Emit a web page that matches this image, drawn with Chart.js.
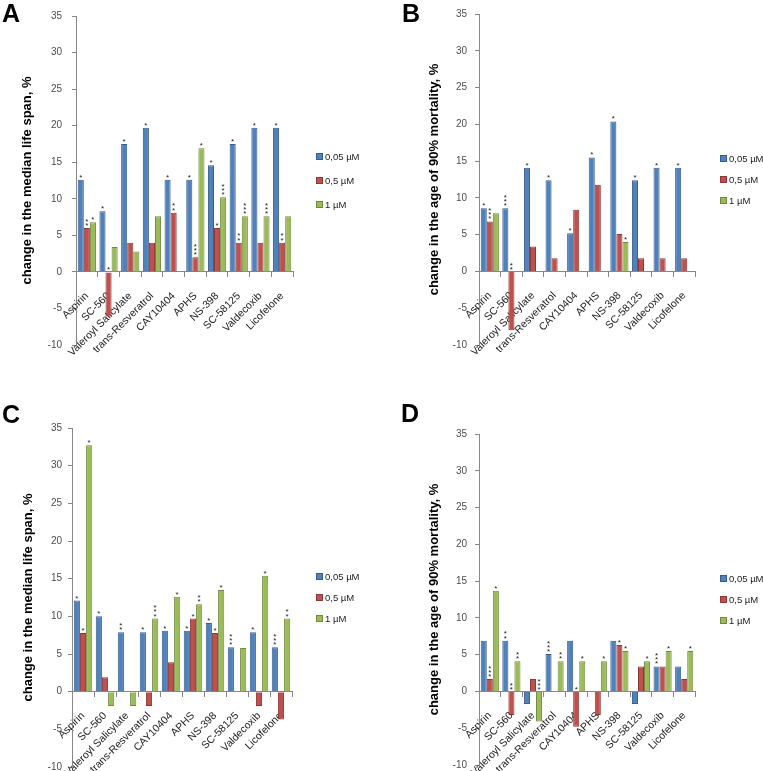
<!DOCTYPE html>
<html><head><meta charset="utf-8">
<script src="https://cdn.jsdelivr.net/npm/chart.js@4/dist/chart.umd.min.js"></script>
<style>
html,body{margin:0;padding:0;background:#fff;overflow:hidden;width:763px;height:771px;}
canvas{position:absolute;}
</style></head><body>
<canvas id="cA" width="380" height="380" style="left:0;top:0"></canvas>
<canvas id="cB" width="383" height="380" style="left:380px;top:0"></canvas>
<canvas id="cC" width="380" height="400" style="left:0;top:380px"></canvas>
<canvas id="cD" width="383" height="400" style="left:380px;top:380px"></canvas>
<script>
// ---- data ----
const categories = ['Aspirin','SC-560','Valeroyl Salicylate','trans-Resveratrol','CAY10404','APHS','NS-398','SC-58125','Valdecoxib','Licofelone'];
const seriesLabels = ['0,05 µM','0,5 µM','1 µM'];
const yMin = -10, yMax = 35, yStep = 5;
const titleLifeSpan = 'change in the median life span, %';
const titleMortality = 'change in the age of 90% mortality, %';

// Panel A
const a005 = [12.6, 8.3, 17.5, 19.7, 12.6, 12.6, 14.6, 17.5, 19.7, 19.7];
const a05  = [6.0, -6.1, 4.0, 4.0, 8.1, 2.0, 6.0, 4.0, 4.0, 4.0];
const a1   = [6.8, 3.4, 2.8, 7.6, null, 16.9, 10.2, 7.6, 7.6, 7.6];
const sA005 = ['*','*','*','*','*','*','*','*','*','*'];
const sA05  = ['**','*','','','**','***','*','**','','**'];
const sA1   = ['*','','','','','*','***','***','***',''];

// Panel B
const b005 = [8.6, 8.6, 14.1, 12.4, 5.2, 15.5, 20.4, 12.4, 14.1, 14.1];
const b05  = [6.8, -8.0, 3.4, 1.8, 8.4, 11.8, 5.1, 1.8, 1.8, 1.8];
const b1   = [7.9, null, null, null, null, null, 4.0, null, null, null];
const sB005 = ['*','***','*','*','*','*','*','*','*','*'];
const sB05  = ['***','**','','','','','','','',''];
const sB1   = ['','','','','','','*','','',''];

// Panel C
const c005 = [12.1, 10.0, 7.9, 7.9, 8.1, 8.1, 9.1, 5.9, 7.9, 5.9];
const c05  = [7.8, 1.9, null, -1.9, 3.9, 9.7, 7.8, null, -1.9, -3.7];
const c1   = [32.7, -1.9, -1.9, 9.7, 12.6, 11.6, 13.5, 5.8, 15.4, 9.7];
const sC005 = ['*','*','**','*','*','*','*','***','*','***'];
const sC05  = ['*','','','','','*','*','','',''];
const sC1   = ['*','','','***','*','**','*','','*','**'];

// Panel D
const d005 = [6.9, 6.9, -1.7, 5.1, 6.9, null, 6.9, -1.7, 3.4, 3.4];
const d05  = [1.7, -3.2, 1.7, null, -4.8, -3.2, 6.3, 3.4, 3.4, 1.7];
const d1   = [13.7, 4.1, -4.1, 4.1, 4.1, 4.1, 5.5, 4.1, 5.5, 5.5];
const sD005 = ['','**','','***','','','','','***',''];
const sD05  = ['***','**','','','*','','*','','',''];
const sD1   = ['*','**','***','**','*','*','*','*','*','*'];

// ---- styles ----
const FONT = '"Liberation Sans", Arial, Helvetica, sans-serif';
const fills = ['#4F81BD', '#C0504D', '#9BBB59'];
const borders = ['#385D8A', '#8C3836', '#71893F'];

const starPlugin = {
  id: 'stars',
  afterDatasetsDraw(chart) {
    const ctx = chart.ctx;
    ctx.save();
    ctx.font = '8px ' + FONT;
    ctx.fillStyle = '#222';
    ctx.textAlign = 'center';
    ctx.textBaseline = 'alphabetic';
    const m = ctx.measureText('*');
    const off = (m.actualBoundingBoxAscent - m.actualBoundingBoxDescent) / 2;
    chart.data.datasets.forEach((ds, di) => {
      const meta = chart.getDatasetMeta(di);
      (ds.stars || []).forEach((s, i) => {
        if (!s) return;
        const el = meta.data[i];
        if (!el) return;
        const y = isNaN(el.y) ? el.base : el.y;
        const top = Math.min(y, el.base);
        for (let k = 0; k < s.length; k++) {
          const cy = top - 3.5 - k * 4.2;
          ctx.fillText('*', el.x, cy + off);
        }
      });
    });
    ctx.restore();
  }
};

const legendPlugin = {
  id: 'sideLegend',
  afterDraw(chart, args, opts) {
    const {ctx, chartArea} = chart;
    const cy = (chartArea.top + chartArea.bottom) / 2 + (opts.dy || 0);
    const n = chart.data.datasets.length;
    ctx.save();
    ctx.font = '9.5px ' + FONT;
    ctx.textBaseline = 'middle';
    ctx.textAlign = 'left';
    chart.data.datasets.forEach((ds, i) => {
      const y = Math.round(cy + (i - (n - 1) / 2) * opts.spacing);
      const x = Math.round(chartArea.right + opts.offsetX);
      ctx.fillStyle = ds.backgroundColor;
      ctx.fillRect(x, y - 4, 7, 7);
      ctx.strokeStyle = ds.borderColor;
      ctx.lineWidth = 1;
      ctx.strokeRect(x + 0.5, y - 3.5, 6, 6);
      ctx.fillStyle = '#222';
      ctx.fillText(ds.label, x + 9, y);
    });
    ctx.restore();
  }
};

const letterPlugin = {
  id: 'panelLetter',
  afterDraw(chart, args, opts) {
    const ctx = chart.ctx;
    ctx.save();
    ctx.font = 'bold 25px ' + FONT;
    ctx.fillStyle = '#000';
    ctx.textAlign = 'left';
    ctx.textBaseline = 'alphabetic';
    ctx.fillText(opts.text, opts.x, opts.y);
    ctx.restore();
  }
};

function makeChart(id, vals, stars, p) {
  const datasets = vals.map((v, i) => ({
    label: seriesLabels[i],
    data: v,
    stars: stars[i],
    backgroundColor: fills[i],
    borderColor: borders[i],
    borderWidth: 1,
    categoryPercentage: 0.84,
    barPercentage: 1.0
  }));
  return new Chart(document.getElementById(id), {
    type: 'bar',
    data: { labels: categories, datasets },
    plugins: [starPlugin, legendPlugin, letterPlugin],
    options: {
      responsive: false,
      animation: false,
      devicePixelRatio: 1,
      layout: { padding: { left: 0, top: p.padTop, right: p.padRight, bottom: p.padBottom } },
      plugins: {
        legend: { display: false },
        tooltip: { enabled: false },
        sideLegend: { spacing: p.legSpacing, offsetX: p.legOffset, dy: p.legDy || 0 },
        panelLetter: { text: p.letter, x: p.lx, y: p.ly }
      },
      scales: {
        x: {
          position: { y: 0 },
          offset: true,
          grid: { display: true, drawOnChartArea: false, drawTicks: true, tickLength: 5, color: '#888', offset: true },
          border: { display: true, color: '#888', width: 1 },
          ticks: {
            autoSkip: false, minRotation: 45, maxRotation: 45, padding: p.xPad,
            color: '#222', font: { family: FONT, size: 10.5 }
          }
        },
        y: {
          min: yMin, max: yMax,
          afterFit: (s) => { s.width = p.yW; },
          grid: { display: true, drawOnChartArea: false, drawTicks: true, tickLength: 4, color: '#888' },
          border: { display: true, color: '#888', width: 1 },
          ticks: { stepSize: yStep, padding: p.yPad, color: '#4d4d4d', font: { family: FONT, size: 10 } },
          title: {
            display: true, text: p.title, color: '#000',
            font: { family: FONT, size: 13, weight: 'bold' },
            padding: { top: p.titlePad, bottom: 0 }
          }
        }
      }
    }
  });
}

makeChart('cA', [a005, a05, a1], [sA005, sA05, sA1],
  { yW: 76, titlePad: 20, padTop: 6, padBottom: 35, padRight: 87, xPad: 13, yPad: 10,
    title: titleLifeSpan, letter: 'A', lx: 2, ly: 22, legSpacing: 24, legOffset: 23 });
makeChart('cB', [b005, b05, b1], [sB005, sB05, sB1],
  { yW: 99, titlePad: 47, padTop: 6, padBottom: 35, padRight: 68, xPad: 13, yPad: 8,
    title: titleMortality, letter: 'B', lx: 22, ly: 22, legSpacing: 21, legOffset: 25 });
makeChart('cC', [c005, c05, c1], [sC005, sC05, sC1],
  { yW: 72, titlePad: 21, padTop: 48, padBottom: 13, padRight: 88, xPad: 13, yPad: 6,
    title: titleLifeSpan, letter: 'C', lx: 2, ly: 43, legSpacing: 21, legOffset: 24 });
makeChart('cD', [d005, d05, d1], [sD005, sD05, sD1],
  { yW: 99, titlePad: 47, padTop: 54, padBottom: 15, padRight: 68, xPad: 13, yPad: 8,
    title: titleMortality, letter: 'D', lx: 21, ly: 42, legSpacing: 21, legOffset: 25 });
</script>
</body></html>
